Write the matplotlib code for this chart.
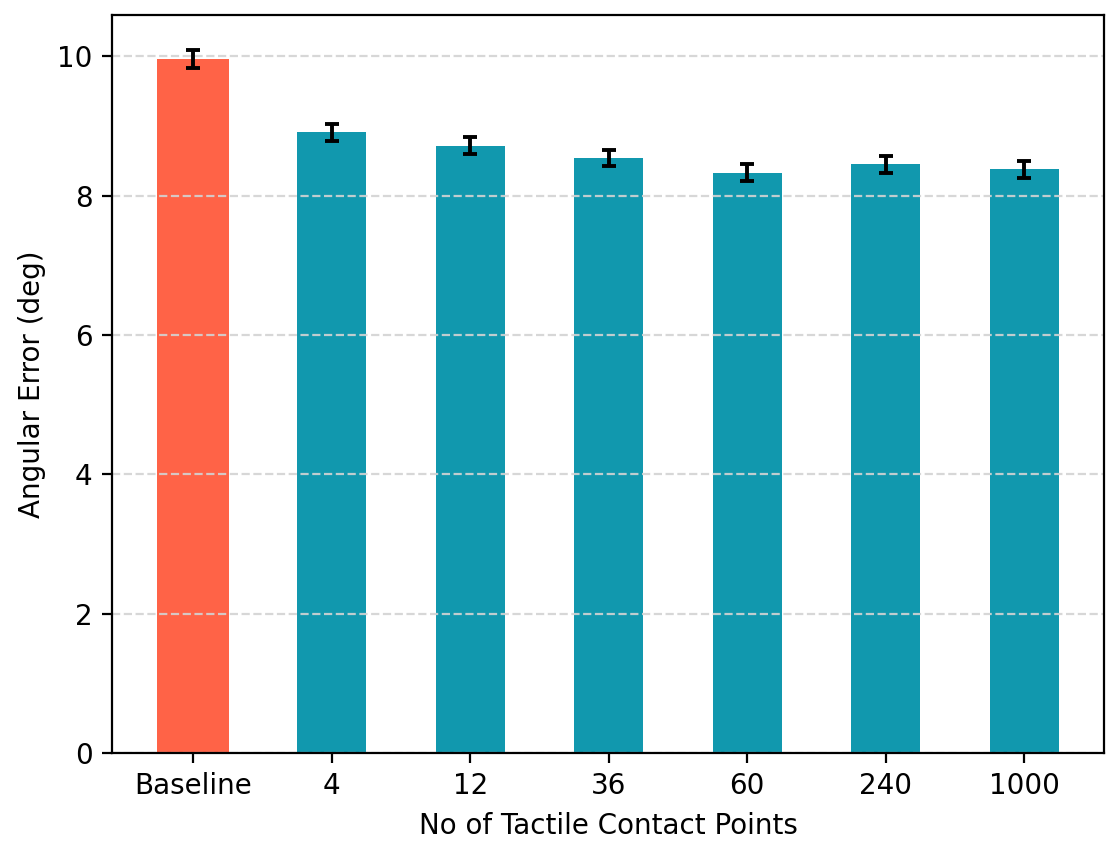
import matplotlib
matplotlib.use('Agg')
import matplotlib.pyplot as plt

categories = ['Baseline', '4', '12', '36', '60', '240', '1000']
errors_mean = [9.96, 8.91, 8.72, 8.54, 8.33, 8.45, 8.38]
errors_std = [0.13, 0.12, 0.12, 0.115, 0.12, 0.12, 0.12]
colors = ['#ff6347'] + ['#1198ae'] * 6
widths = [0.52] + [0.5] * 6

fig = plt.figure(figsize=(1118 / 200, 842 / 200), dpi=200)
ax = fig.add_axes([0.1002, 0.1057, 0.8873, 0.8765])

x = list(range(len(categories)))
ax.bar(x, errors_mean, width=widths, color=colors, yerr=errors_std,
       capsize=2.4, error_kw={'elinewidth': 1.4, 'capthick': 1.4, 'ecolor': 'black'})
ax.set_xticks(x)
ax.set_xticklabels(categories)
ax.set_xlabel('No of Tactile Contact Points')
ax.set_ylabel('Angular Error (deg)')
ax.grid(axis='y', linestyle='--', color='lightgray', alpha=0.9)

fig.savefig('out.png', dpi=200)
